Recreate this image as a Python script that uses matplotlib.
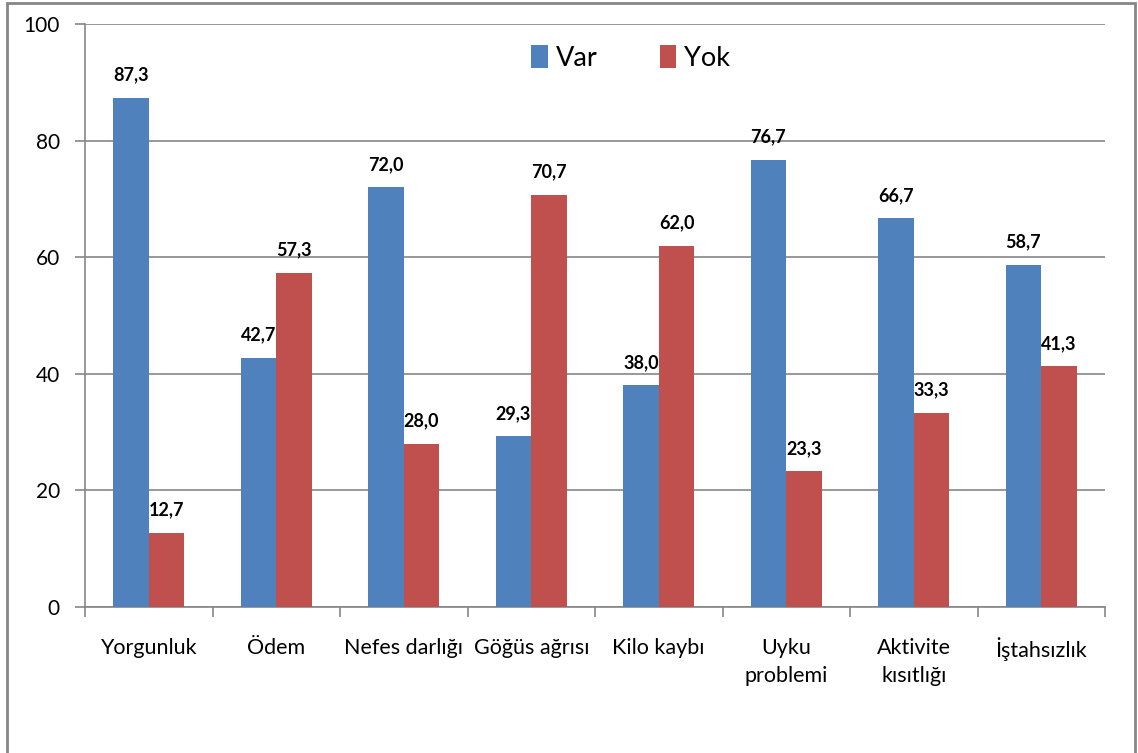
import matplotlib
matplotlib.use("Agg")
import matplotlib.pyplot as plt
from matplotlib.patches import Rectangle
import numpy as np

categories = ["Yorgunluk", "Ödem", "Nefes darlığı", "Göğüs ağrısı", "Kilo kaybı",
              "Uyku\nproblemi", "Aktivite\nkısıtlığı", "İştahsızlık"]
var_values = [87.3, 42.7, 72.0, 29.3, 38.0, 76.7, 66.7, 58.7]
yok_values = [12.7, 57.3, 28.0, 70.7, 62.0, 23.3, 33.3, 41.3]
series_names = ["Var", "Yok"]
y_ticks = [0, 20, 40, 60, 80, 100]

BLUE = "#4F81BD"
RED = "#C0504D"
GRAY = "#868686"
FONT = ["Lato", "DejaVu Sans"]

plt.rcParams["font.family"] = FONT

fig = plt.figure(figsize=(11.38, 7.53), dpi=100)
ax = fig.add_axes([85/1138, 1-607/753, (1105-85)/1138, (607-24)/753])

x = np.arange(len(categories))
w = 0.28
b1 = ax.bar(x - w/2, var_values, width=w, color=BLUE, label=series_names[0], zorder=3)
b2 = ax.bar(x + w/2, yok_values, width=w, color=RED, label=series_names[1], zorder=3)

for bars, vals in ((b1, var_values), (b2, yok_values)):
    for rect, v in zip(bars, vals):
        ax.annotate(f"{v:.1f}".replace(".", ","),
                    (rect.get_x() + rect.get_width()/2, v),
                    xytext=(0, 12.5), textcoords="offset points",
                    ha="center", va="baseline", fontsize=13, fontweight="bold",
                    color="#000000", zorder=4)

ax.set_xlim(-0.5, len(categories) - 0.5)
ax.set_ylim(0, 100)
ax.set_yticks(y_ticks)
ax.set_yticklabels([str(t) for t in y_ticks], fontsize=15)
ax.yaxis.grid(True, color=GRAY, linewidth=1.2, zorder=0)
ax.tick_params(axis="y", length=7, width=1.2, color=GRAY, pad=11)

ax.set_xticks(x)
ax.set_xticklabels(categories, fontsize=15.5, linespacing=1.5, va="top")
ax.set_xticks(np.arange(len(categories) + 1) - 0.5, minor=True)
ax.tick_params(axis="x", which="major", length=0, pad=22)
ax.tick_params(axis="x", which="minor", length=7, width=1.2, color=GRAY)

for s in ("top", "right"):
    ax.spines[s].set_visible(False)
for s in ("left", "bottom"):
    ax.spines[s].set_color(GRAY)
    ax.spines[s].set_linewidth(1.2)

leg = ax.legend(loc="upper center", bbox_to_anchor=(0.535, 1.005), ncol=2,
                frameon=False, fontsize=19.5, handlelength=0.6, handleheight=0.9,
                columnspacing=2.3, handletextpad=0.3)

fig.patches.append(Rectangle((7/1138, -0.05), (1135-7)/1138, 1.05 - 3/753,
                             transform=fig.transFigure, fill=False,
                             edgecolor=GRAY, linewidth=2))

fig.savefig("out.png", dpi=100)
